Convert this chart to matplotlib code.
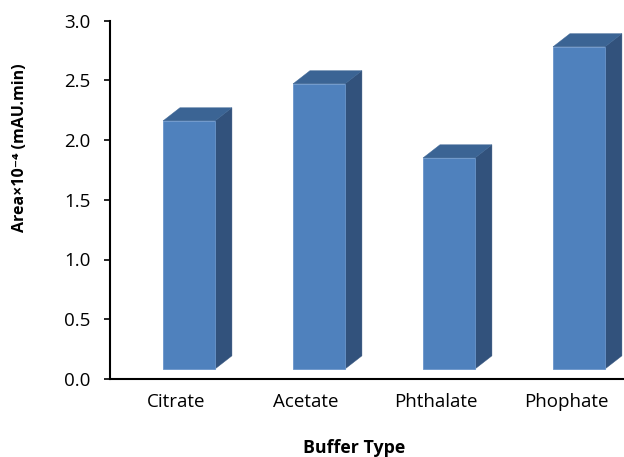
import matplotlib
matplotlib.use("Agg")
import matplotlib.pyplot as plt
from matplotlib.patches import Polygon

# ── Data ──────────────────────────────────────────────────
buffers = ["Citrate", "Acetate", "Phthalate", "Phophate"]
area = [2.16, 2.47, 1.85, 2.78]          # Area x10^-4 (mAU.min)
y_ticks = [0.0, 0.5, 1.0, 1.5, 2.0, 2.5, 3.0]

# ── Style ─────────────────────────────────────────────────
FRONT = "#4F81BD"
TOP = "#3B6494"
SIDE = "#32527C"
BAR_W = 0.40
SHIFT = 0.10      # bars sit a little behind/right of the category label
BASE = 0.084      # floor height of the 3D columns
DX, DY = 0.13, 0.11   # depth offset

plt.rcParams["font.family"] = ["Open Sans", "DejaVu Sans"]

fig = plt.figure(figsize=(6.24, 4.57), dpi=100)
ax = fig.add_axes([110 / 624, 78 / 457, 1 - 110 / 624, (379 - 20.5) / 457])

for i, v in enumerate(area):
    xc = i + SHIFT
    xl, xr = xc - BAR_W / 2, xc + BAR_W / 2
    # front face
    ax.bar(xc, v - BASE, bottom=BASE, width=BAR_W, color=FRONT,
           edgecolor="#6A95CA", linewidth=0.6, zorder=3)
    # right side face
    ax.add_patch(Polygon([(xr, BASE), (xr, v), (xr + DX, v + DY), (xr + DX, BASE + DY)],
                         closed=True, facecolor=SIDE, edgecolor=SIDE, linewidth=0.3, zorder=2))
    # top face
    ax.add_patch(Polygon([(xl, v), (xr, v), (xr + DX, v + DY), (xl + DX, v + DY)],
                         closed=True, facecolor=TOP, edgecolor=TOP, linewidth=0.3, zorder=2))

ax.set_xlim(-0.508, 3.446)
ax.set_ylim(0, 3.0)
ax.set_yticks(y_ticks)
ax.set_yticklabels([f"{t:.1f}" for t in y_ticks])
ax.set_xticks(range(len(buffers)))
ax.set_xticklabels(buffers)

for side in ["top", "right"]:
    ax.spines[side].set_visible(False)
for side in ["left", "bottom"]:
    ax.spines[side].set_linewidth(1.5)
    ax.spines[side].set_color("black")

ax.tick_params(axis="y", direction="out", length=4, width=1.2, pad=10, labelsize=13.5)
ax.tick_params(axis="x", length=0, pad=10, labelsize=13.5)

fig.text(20 / 624, 1 - 148 / 457, "Area\u00d710\u207b\u2074 (mAU.min)", rotation=90,
         ha="center", va="center", fontsize=11.5, fontweight="bold")
fig.text(354 / 624, 1 - 448 / 457, "Buffer Type", ha="center", va="center",
         fontsize=12.8, fontweight="bold")

fig.savefig("out.png", dpi=100)
